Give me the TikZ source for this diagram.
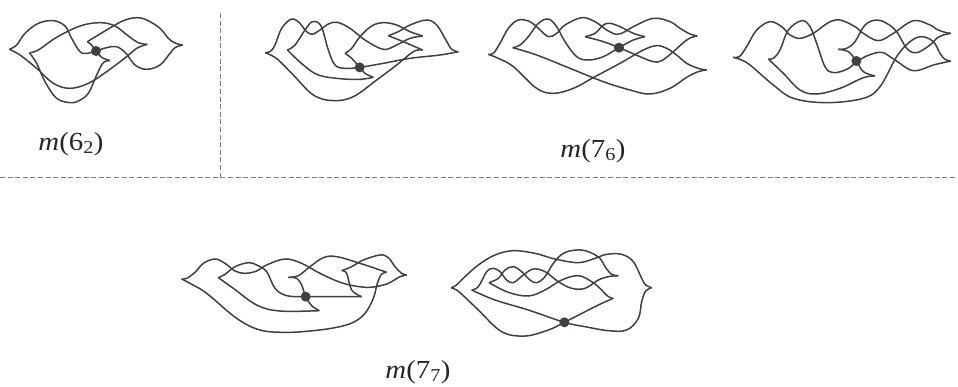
\documentclass[tikz,border=0pt]{standalone}
\usepackage{fontspec}
\setmainfont{Liberation Serif}
\definecolor{knotgray}{RGB}{64,64,60}
\definecolor{rulegray}{RGB}{125,125,125}
\tikzset{
    strand/.style={knotgray, line width=1.5pt, smooth, tension=0.6},
    knotdot/.style={circle, fill=knotgray, inner sep=0pt, minimum size=10pt},
    rulebar/.style={rulegray, line width=0.9pt, dash pattern=on 5pt off 2.6pt},
    knotlabel/.style={font=\fontsize{26}{28}\selectfont, text=black!85, inner sep=0pt, xscale=1.11, transform shape}
}
\begin{document}
\begin{tikzpicture}[x=1pt, y=-1pt]
    \useasboundingbox (0,0) rectangle (958,386);

    % 分隔虚线
    \draw[rulebar] (220,13) -- (220,177);
    \draw[rulebar] (0,177.5) -- (958,177.5);

    % 1. m(6_2)
    \begin{scope}[scale=1/3]
        \draw[strand] plot coordinates {(28,148)(50,135)(75,100)(115,70)(160,62)(195,78)(215,115)(240,155)(262,160)(288,153)(320,143)(350,140)(378,160)(405,195)(440,208)(480,195)(510,160)(525,143)(548,135)};
        \draw[strand] plot coordinates {(548,135)(525,129)(505,115)(480,85)(440,60)(410,53)(370,62)(320,90)(262,125)};
        \draw[strand] plot coordinates {(262,125)(275,135)(288,153)(305,172)(330,182)};
        \draw[strand] plot coordinates {(330,182)(310,188)(290,225)(265,280)(235,303)(210,308)(170,295)(135,245)(110,190)(88,158)};
        \draw[strand] plot coordinates {(88,158)(115,150)(170,112)(240,78)(300,68)(345,78)(385,108)(415,128)(442,133)};
        \draw[strand] plot coordinates {(442,133)(410,145)(380,170)(320,215)(265,250)(210,265)(160,250)(110,205)(60,165)(28,148)};
        \node[knotdot] (dotA) at (288,153) {};
    \end{scope}
    \node[knotlabel] (labelA) at (71,144) {\textit{m}(6\textsubscript{2})};

    % 2. m(7_6) 第一个
    \begin{scope}[shift={(250,0)}, scale=1/3]
        \draw[strand] plot coordinates {(45,158)(60,155)(75,135)(95,85)(125,57)(150,70)(165,90)(185,103)(210,90)(235,72)(262,67)(300,85)(345,120)(400,148)(440,135)(480,115)(518,108)};
        \draw[strand] plot coordinates {(518,108)(480,95)(440,75)(400,68)(365,78)(330,110)(305,145)(285,160)};
        \draw[strand] plot coordinates {(285,160)(305,175)(329,202)(345,220)(370,232)};
        \draw[strand] plot coordinates {(370,232)(330,238)(270,236)(205,225)(160,195)(112,150)};
        \draw[strand] plot coordinates {(112,150)(135,135)(165,90)(185,66)(205,68)(218,90)(235,150)(255,195)(285,205)(329,202)(400,190)(480,175)(570,165)(625,155)};
        \draw[strand] plot coordinates {(625,155)(605,148)(585,115)(560,75)(530,60)(480,75)(445,95)(415,107)};
        \draw[strand] plot coordinates {(415,107)(460,125)(490,138)(518,150)};
        \draw[strand] plot coordinates {(518,150)(495,152)(470,170)(440,195)(380,240)(310,290)(250,302)(190,285)(130,225)(85,180)(62,165)(45,158)};
        \node[knotdot] (dotB) at (329,202) {};
    \end{scope}

    % 3. m(7_6) 第二个
    \begin{scope}[shift={(470,0)}, scale=1/3]
        \draw[strand] plot coordinates {(55,163)(70,160)(90,130)(115,85)(145,60)(180,65)(205,85)(235,110)(260,100)(285,75)(335,53)(375,65)(410,90)(440,103)(465,95)(490,80)(550,55)(600,65)(630,85)(660,102)(682,108)};
        \draw[strand] plot coordinates {(682,108)(662,113)(640,128)(610,155)(575,182)(550,185)(510,170)(447,143)(400,125)(345,110)};
        \draw[strand] plot coordinates {(345,110)(375,100)(400,75)(420,70)(450,80)(490,100)(525,110)};
        \draw[strand] plot coordinates {(525,110)(490,120)(447,143)(400,170)(355,180)(320,170)(285,125)(260,80)(235,57)(205,70)(175,110)(150,135)(128,143)};
        \draw[strand] plot coordinates {(128,143)(200,165)(300,205)(400,245)(480,270)(540,282)(600,265)(650,232)(685,215)(710,210)};
        \draw[strand] plot coordinates {(710,210)(685,205)(650,190)(620,165)(590,145)(560,137)(520,150)(450,190)(375,230)(310,265)(250,280)(200,265)(130,200)(85,175)(55,163)};
        \node[knotdot] (dotC) at (447,143) {};
    \end{scope}

    % 4. m(7_6) 第三个
    \begin{scope}[shift={(700,0)}, scale=1/3]
        \draw[strand] plot coordinates {(100,172)(118,170)(140,140)(170,90)(210,65)(245,80)(270,105)(300,115)(340,100)(385,68)(420,60)(465,80)(490,100)(535,122)(580,100)(640,62)(690,75)(710,88)(735,97)(752,100)};
        \draw[strand] plot coordinates {(752,100)(730,105)(710,115)(690,135)(650,158)(620,145)(590,95)(560,70)(530,60)(495,75)(465,125)(440,145)(415,148)};
        \draw[strand] plot coordinates {(415,148)(445,155)(469,183)(490,215)(525,228)};
        \draw[strand] plot coordinates {(525,228)(490,233)(420,265)(350,282)(300,270)(250,220)(205,177)};
        \draw[strand] plot coordinates {(205,177)(220,175)(240,150)(265,90)(305,62)(330,80)(350,130)(375,200)(400,218)(440,208)(469,187)(500,168)(545,157)(585,180)(640,212)(700,195)(730,188)(752,183)};
        \draw[strand] plot coordinates {(752,183)(735,178)(720,160)(700,125)(665,110)(630,125)(590,170)(540,260)(490,295)(380,308)(280,295)(220,255)(150,195)(120,178)(100,172)};
        \node[knotdot] (dotD) at (469,183) {};
    \end{scope}
    \node[knotlabel] (labelB) at (593,151) {\textit{m}(7\textsubscript{6})};

    % 5. m(7_7) 第一个
    \begin{scope}[shift={(170,235)}, scale=1/3]
        \draw[strand] plot coordinates {(35,132)(50,130)(75,112)(100,85)(135,72)(165,85)(195,108)(225,115)(260,108)(290,90)(345,72)(395,85)(450,115)(520,145)(590,157)(640,150)(665,140)(690,125)(710,120)};
        \draw[strand] plot coordinates {(710,120)(695,115)(675,95)(655,68)(630,60)(580,75)(545,95)(515,107)};
        \draw[strand] plot coordinates {(515,107)(530,115)(545,165)(575,185)};
        \draw[strand] plot coordinates {(575,185)(500,185)(407,185)(350,182)(315,160)(290,110)(260,90)(235,83)(195,95)(165,118)(145,128)};
        \draw[strand] plot coordinates {(145,128)(190,160)(260,210)(330,228)(448,227)};
        \draw[strand] plot coordinates {(448,227)(425,212)(407,185)(395,150)(380,130)(355,127)};
        \draw[strand] plot coordinates {(355,127)(385,122)(420,95)(460,68)(500,65)(570,85)(630,105)(650,112)};
        \draw[strand] plot coordinates {(650,112)(635,117)(622,145)(610,190)(585,235)(550,262)(500,277)(430,287)(350,292)(270,285)(200,250)(110,175)(60,145)(35,132)};
        \node[knotdot] (dotE) at (407,185) {};
    \end{scope}

    % 6. m(7_7) 第二个
    \begin{scope}[shift={(435,235)}, scale=1/3]
        \draw[strand] plot coordinates {(48,158)(62,152)(90,125)(130,90)(180,60)(235,47)(300,55)(360,72)(430,83)(480,70)(515,58)(560,58)(595,80)(620,130)(632,150)(650,158)};
        \draw[strand] plot coordinates {(650,158)(632,168)(620,200)(610,250)(575,285)(520,287)(450,275)(388,262)(280,225)(180,195)(110,165)};
        \draw[strand] plot coordinates {(110,165)(130,155)(155,110)(175,100)(195,110)(215,135)(235,143)(265,120)(295,102)(330,110)(370,140)(410,160)(450,160)(490,135)(520,125)(550,122)};
        \draw[strand] plot coordinates {(550,122)(530,118)(510,95)(495,70)(460,50)(425,45)(385,55)(355,85)(330,125)(305,143)(285,135)(260,110)(235,95)(210,105)(190,130)(162,143)};
        \draw[strand] plot coordinates {(162,143)(220,172)(280,183)(330,165)(380,135)(430,122)(470,140)(495,160)(520,185)(535,190)};
        \draw[strand] plot coordinates {(535,190)(490,210)(388,262)(340,285)(270,303)(200,290)(130,225)(85,182)(65,165)(48,158)};
        \node[knotdot] (dotF) at (388,262) {};
    \end{scope}
    \node[knotlabel] (labelC) at (418,372) {\textit{m}(7\textsubscript{7})};
\end{tikzpicture}
\end{document}
